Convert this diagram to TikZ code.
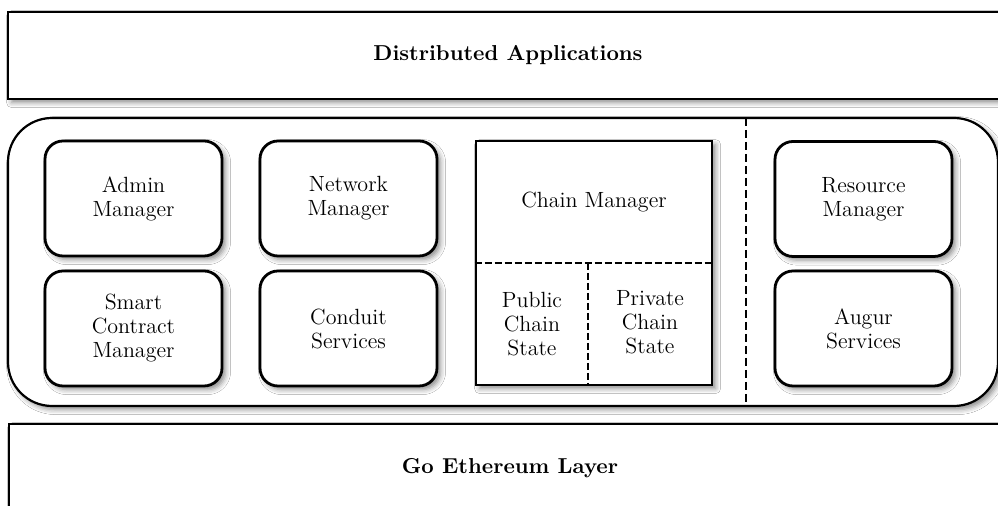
\documentclass[tikz,border=0pt]{standalone}
\usepackage{tikz}
\usetikzlibrary{shadows.blur}

\tikzset{
  shade/.style={blur shadow={shadow xshift=1.8pt, shadow yshift=-1.8pt, shadow blur radius=2.5pt, shadow opacity=45}},
  layer/.style={draw, line width=1.3pt, fill=white, shade, font=\fontsize{10.8}{13}\selectfont\bfseries},
  module/.style={draw, line width=1.4pt, fill=white, shade, rounded corners=9pt,
    minimum width=88.5pt, minimum height=57.5pt, align=center, font=\fontsize{11}{12}\selectfont},
  plain/.style={align=center, font=\fontsize{11}{12}\selectfont},
  split/.style={line width=1pt, dash pattern=on 3.5pt off 1.5pt},
}

\begin{document}
\begin{tikzpicture}[x=0.5pt,y=-0.5pt]
\clip (0,0) rectangle (998,506);
\fill[white] (0,0) rectangle (998,506);

% top and bottom layers
\node (dapps) [layer, minimum width=500pt, minimum height=43.5pt] at (508,55.5) {Distributed Applications};
\node (goeth) [layer, minimum width=501pt, minimum height=44pt] at (510,468) {Go Ethereum Layer};

% middle layer
\node (core) [draw, line width=1.1pt, fill=white, shade, rounded corners=22pt,
  minimum width=495pt, minimum height=144pt] at (503,262) {};

\node (admin) [module] at (133.5,198.5) {Admin\\Manager};
\node (smart) [module] at (133.5,328.5) {Smart\\Contract\\Manager};
\node (network) [module] at (348.5,198.5) {Network\\Manager};
\node (conduit) [module] at (348.5,328.5) {Conduit\\Services};
\node (resource) [module] at (863.5,199) {Resource\\Manager};
\node (augur) [module] at (863.5,328.5) {Augur\\Services};

% chain manager block
\node (chain) [draw, line width=1.4pt, fill=white, shade, minimum width=118pt, minimum height=122pt] at (594,263) {};
\node (chainlbl) [plain] at (594,202) {Chain Manager};
\draw[split] (chain.west) -- (chain.east);
\coordinate (cut) at (588,263);
\draw[split] (cut) -- (cut |- chain.south);
\node (public) [plain] at (532,324) {Public\\Chain\\State};
\node (private) [plain] at (650,322) {Private\\Chain\\State};

% divider
\coordinate (divtop) at (746,118);
\coordinate (divbot) at (746,406);
\draw[line width=1pt, dash pattern=on 4pt off 2pt] (divtop) -- (divbot);
\end{tikzpicture}
\end{document}
